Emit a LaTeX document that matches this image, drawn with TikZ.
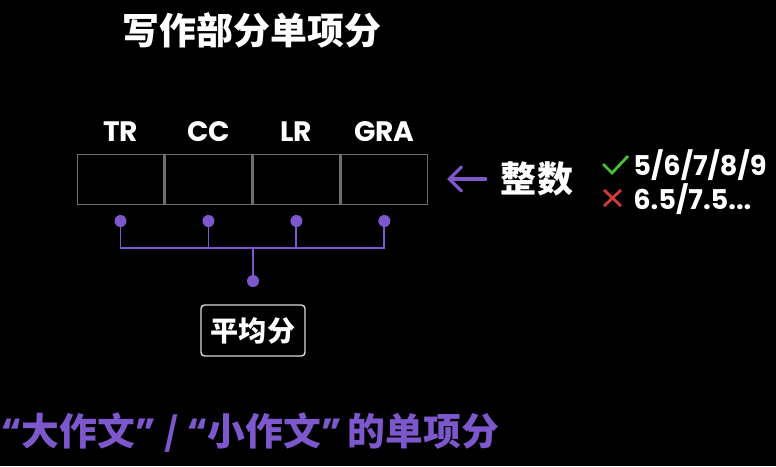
\documentclass[tikz,border=0pt]{standalone}
\usepackage{fontspec}
\setmainfont{Noto Sans CJK SC}
\newfontfamily\latin{Poppins}
\usetikzlibrary{arrows.meta,positioning}
\definecolor{accent}{HTML}{7D58CC}
\definecolor{okgreen}{HTML}{4DBE38}
\definecolor{badred}{HTML}{D23A3A}
\definecolor{cellgray}{HTML}{6E6E6E}
\newcommand{\fs}[1]{\fontsize{#1}{#1}\selectfont\bfseries}
\newcommand{\lat}[1]{{\latin #1}}

\begin{document}
\begin{tikzpicture}[x=0.02cm, y=-0.02cm,
    cell/.style={draw=cellgray, line width=0.7pt, minimum width=1.735cm, minimum height=1.0cm, inner sep=0pt},
    head/.style={text=white, font=\fs{16}\latin, inner sep=0pt},
    dot/.style={circle, fill=accent, inner sep=0pt, minimum size=0.24cm},
    link/.style={accent, line width=1.1pt},
    txt/.style={text=white, inner sep=0pt}]
    % Background
    \fill[black] (0,0) rectangle (776,466);

    % Title
    \node[txt, font=\fs{21}] (title) at (252,30) {写作部分单项分};

    % Score cells
    \node[cell] (tr) at (120.5,179.5) {};
    \node[cell, right=0pt of tr] (cc) {};
    \node[cell, right=0pt of cc] (lr) {};
    \node[cell, right=0pt of lr] (gra) {};

    % Cell headings
    \node[head] (trlab) at (tr |- 0,132) {TR};
    \node[head] (cclab) at (cc |- 0,132) {CC};
    \node[head] (lrlab) at (lr |- 0,132) {LR};
    \node[head] (gralab) at (gra |- 0,132) {GRA};

    % Averaging bracket
    \node[dot] (d1) at (tr |- 0,221) {};
    \node[dot] (d2) at (cc |- 0,221) {};
    \node[dot] (d3) at (lr |- 0,221) {};
    \node[dot] (d4) at (gra |- 0,221) {};
    \coordinate (hub) at (253,248);
    \node[dot] (dm) at (253,281) {};
    \draw[link] (d1.center) |- (hub) -| (d4.center);
    \draw[link] (d2.center) -- (d2 |- hub);
    \draw[link] (d3.center) -- (d3 |- hub);
    \draw[link] (hub) -- (dm.center);

    \node[draw=white!85!black, line width=0.8pt, rounded corners=2pt, text=white,
          font=\fs{16}, minimum width=2.08cm, minimum height=1.02cm, inner sep=0pt] (avg) at (253,330.5) {平均分};

    % Whole numbers only
    \node[txt, font=\fs{20.5}] (zs) at (537,179) {整数};
    \coordinate (tip) at (447,179);
    \draw[accent, line width=1.9pt, line cap=round, -{Straight Barb[length=0.24cm, width=0.48cm, line cap=round]}, shorten <=0.3cm] (zs.west) -- (tip);

    % Allowed / not allowed
    \draw[okgreen, line width=1.6pt] (603,164) -- (612,173) -- (628,156);
    \draw[badred, line width=1.6pt] (604,190) -- (621,206) (604,206) -- (621,190);
    \node[txt, font=\fs{15.5}\latin, anchor=west] (yes) at (633,165) {5/6/7/8/9};
    \node[txt, font=\fs{15.5}\latin, anchor=west] (no) at (633,199) {6.5/7.5...};

    % Footer
    \node[text=accent, inner sep=0pt, font=\fs{21.5}, anchor=west] (foot) at (1,433)
        {\lat{“}大作文\lat{”}\ /\ \lat{“}小作文\lat{”}\,的单项分};
\end{tikzpicture}
\end{document}
